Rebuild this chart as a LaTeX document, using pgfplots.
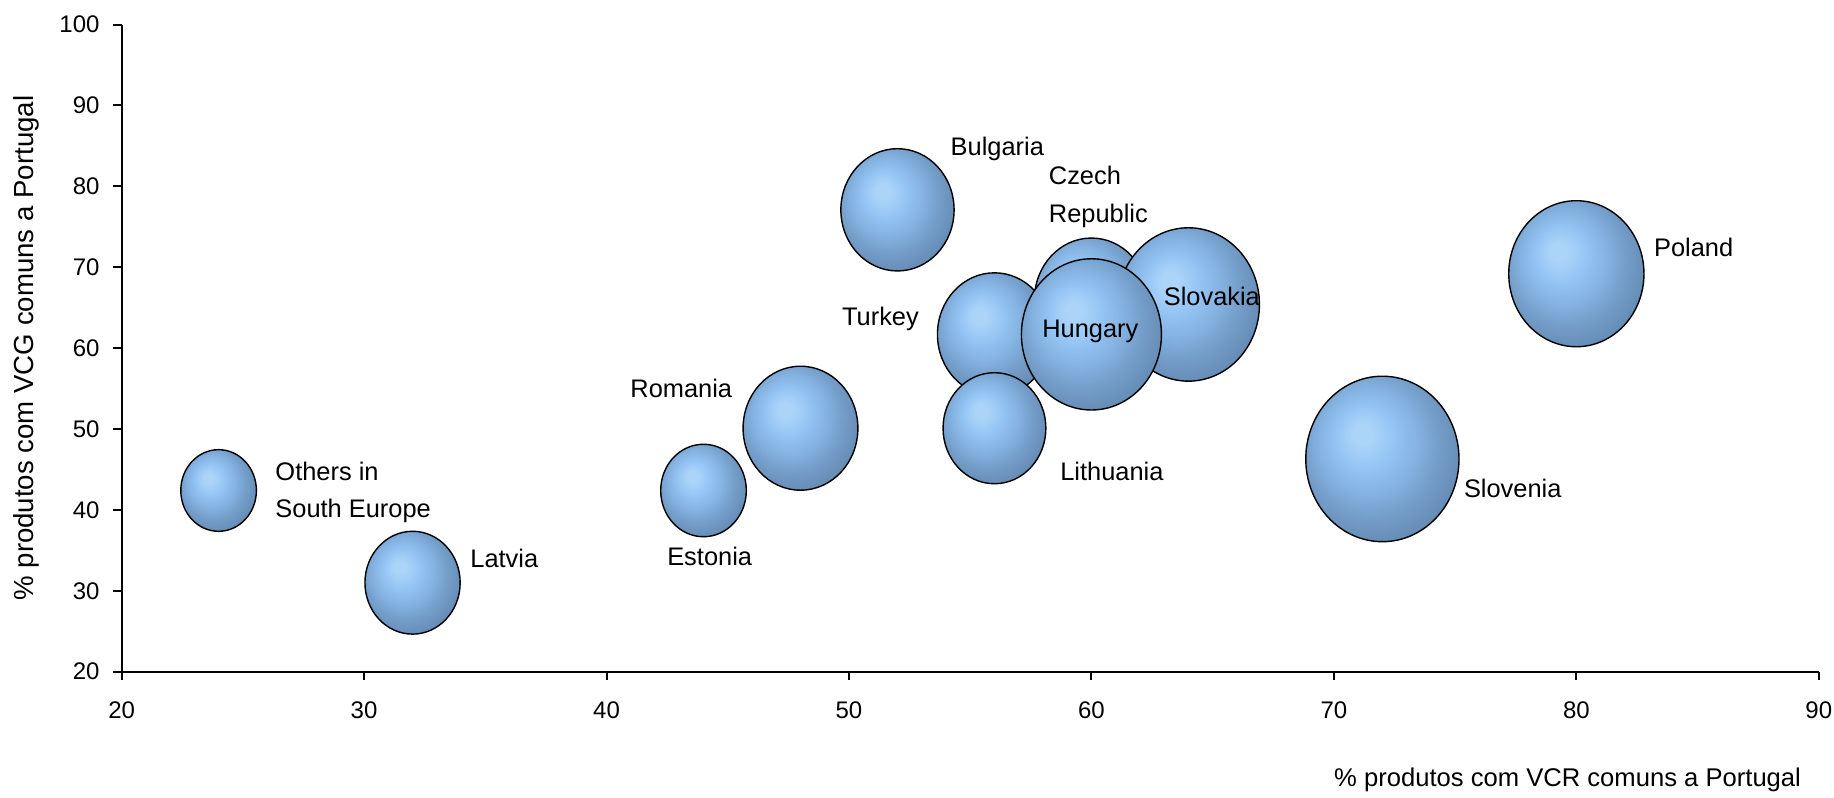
\documentclass[border=0pt]{standalone}
\usepackage{pgfplots}
\pgfplotsset{compat=1.18}
\usepackage{fontspec}
\setmainfont{Liberation Sans}

\definecolor{bA}{RGB}{172,212,248}
\definecolor{bB}{RGB}{150,198,245}
\definecolor{bC}{RGB}{132,178,225}
\definecolor{bD}{RGB}{114,155,198}
\definecolor{bE}{RGB}{100,138,178}
\definecolor{bF}{RGB}{88,122,160}
\pgfdeclareradialshading{bubble}{\pgfpoint{-7bp}{8bp}}{color(0bp)=(bA); color(3bp)=(bA); color(9bp)=(bB); color(16bp)=(bC); color(23bp)=(bD); color(30bp)=(bE); color(38bp)=(bF); color(50bp)=(bF)}
\pgfdeclareplotmark{bubble}{%
  \pgfpathellipse{\pgfpointorigin}{\pgfpoint{\pgfplotmarksize}{0pt}}{\pgfpoint{0pt}{1.08\pgfplotmarksize}}%
  \pgfshadepath{bubble}{0}%
  \pgfpathellipse{\pgfpointorigin}{\pgfpoint{\pgfplotmarksize}{0pt}}{\pgfpoint{0pt}{1.08\pgfplotmarksize}}%
  \pgfusepathqstroke}

\newcommand{\lbl}{\fontsize{12.7}{15}\selectfont}

\begin{document}
\begin{tikzpicture}
\path[use as bounding box] (-60.8pt,-62.8pt) rectangle (856.1pt,335.8pt);
\begin{axis}[
  at={(0pt,0pt)}, anchor=south west,
  scale only axis, width=848.5pt, height=323.5pt,
  xmin=20, xmax=90, ymin=20, ymax=100,
  xtick={20,30,...,90}, ytick={20,30,...,100},
  axis lines=left,
  axis line style={-, line width=1pt, black},
  tick style={black, line width=1pt},
  major tick length=4.2pt, tick align=outside,
  /pgf/number format/assume math mode=true,
  tick label style={font=\fontsize{12}{14}\selectfont},
  xticklabel style={yshift=-7.5pt},
  yticklabel style={xshift=-3.3pt},
  every axis y label/.style={at={(axis description cs:-0.0563,0.5)}, rotate=90, anchor=center, font=\fontsize{13.8}{16}\selectfont},
  every axis x label/.style={at={(axis description cs:1,0)}, anchor=east, xshift=-5.4pt, yshift=-54.3pt, font=\fontsize{12.8}{15}\selectfont},
  xlabel={\% produtos com VCR comuns a Portugal},
  ylabel={\% produtos com VCG comuns a Portugal},
  clip=false,
  every axis plot/.append style={only marks, mark=bubble, mark options={draw=black, line width=0.7pt}},
]
% Others in South Europe
\addplot[mark size=18.9pt] coordinates {(24,42.4)};
% Latvia
\addplot[mark size=23.8pt] coordinates {(32,31.0)};
% Estonia
\addplot[mark size=21.4pt] coordinates {(44,42.4)};
% Romania
\addplot[mark size=28.7pt] coordinates {(48,50.1)};
% Bulgaria
\addplot[mark size=28.3pt] coordinates {(52,77.1)};
% Czech Republic
\addplot[mark size=28.5pt] coordinates {(60,66.0)};
% Slovakia
\addplot[mark size=35.5pt] coordinates {(64,65.4)};
% Turkey
\addplot[mark size=28.5pt] coordinates {(56,61.7)};
% Lithuania
\addplot[mark size=25.7pt] coordinates {(56,50.1)};
% Hungary
\addplot[mark size=35.0pt] coordinates {(60,61.7)};
% Slovenia
\addplot[mark size=38.3pt] coordinates {(72,46.3)};
% Poland
\addplot[mark size=33.8pt] coordinates {(80,69.2)};

\coordinate (Lothers1) at (axis cs:26.33,44.7);
\coordinate (Lothers2) at (axis cs:26.33,40.17);
\coordinate (Llatvia) at (axis cs:34.37,34.0);
\coordinate (Lestonia) at (axis cs:42.49,34.2);
\coordinate (Lromania) at (axis cs:40.97,55.0);
\coordinate (Lbulgaria) at (axis cs:54.18,84.9);
\coordinate (Lczech1) at (axis cs:58.23,81.4);
\coordinate (Lczech2) at (axis cs:58.23,76.66);
\coordinate (Lturkey) at (axis cs:49.7,63.87);
\coordinate (Lhungary) at (axis cs:57.96,62.43);
\coordinate (Lslovakia) at (axis cs:62.97,66.35);
\coordinate (Llithuania) at (axis cs:58.7,44.7);
\coordinate (Lslovenia) at (axis cs:75.35,42.65);
\coordinate (Lpoland) at (axis cs:83.19,72.5);
\end{axis}
\tikzset{lab/.style={anchor=base west, inner sep=0pt, yshift=-4.55pt, font=\lbl}}
\node[lab] at (Lothers1) {Others in};
\node[lab] at (Lothers2) {South Europe};
\node[lab] at (Llatvia) {Latvia};
\node[lab] at (Lestonia) {Estonia};
\node[lab] at (Lromania) {Romania};
\node[lab] at (Lbulgaria) {Bulgaria};
\node[lab] at (Lczech1) {Czech};
\node[lab] at (Lczech2) {Republic};
\node[lab] at (Lturkey) {Turkey};
\node[lab] at (Lhungary) {Hungary};
\node[lab] at (Lslovakia) {Slovakia};
\node[lab] at (Llithuania) {Lithuania};
\node[lab] at (Lslovenia) {Slovenia};
\node[lab] at (Lpoland) {Poland};
\end{tikzpicture}
\end{document}
